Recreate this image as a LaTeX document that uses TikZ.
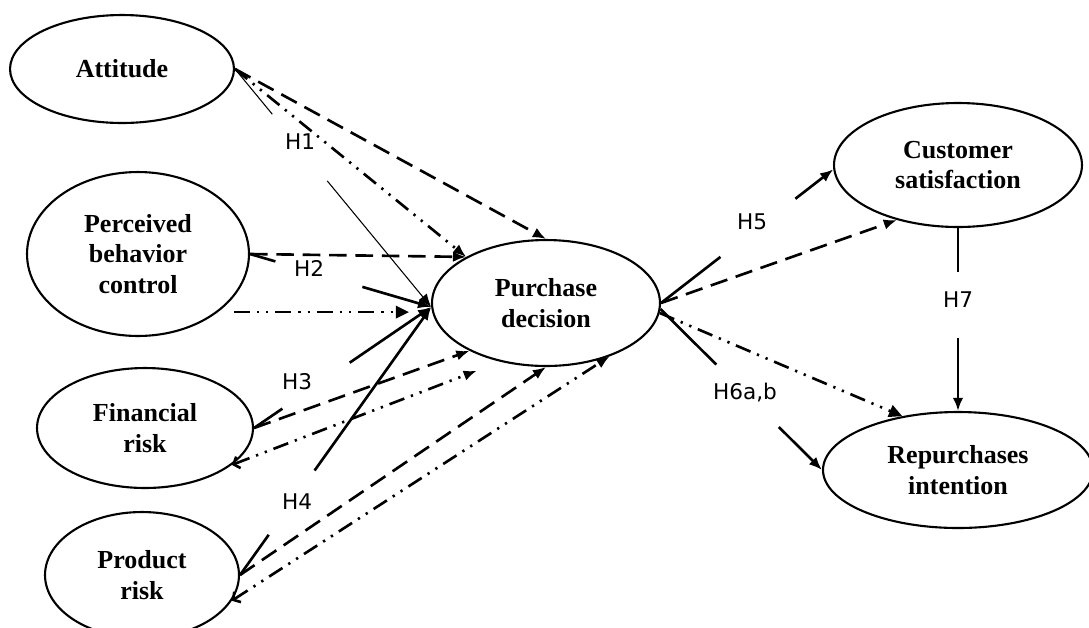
\documentclass[tikz,border=0pt]{standalone}
\usepackage{fontspec}
\setmainfont{Liberation Serif}
\newfontfamily\hfont{DejaVu Sans}
\usetikzlibrary{shapes.geometric,arrows.meta}
\begin{document}
\begin{tikzpicture}[x=0.02cm,y=-0.02cm,
  var/.style={ellipse,draw,line width=1.2pt,inner sep=0pt,align=center,font=\fontsize{14.8}{17.5}\selectfont\bfseries},
  hyp/.style={font=\hfont\fontsize{12.3}{14}\selectfont,inner sep=1pt},
  link/.style={line width=1.5pt},
  tip/.style={arrows={-Latex[length=7.5pt,width=6pt]}},
  tri/.style={arrows={-Triangle[length=7.5pt,width=7pt]}},
  btip/.style={arrows={Straight Barb[length=3pt,width=7pt]-Latex[length=7.5pt,width=6pt]}},
  dsh/.style={dash pattern=on 10pt off 5pt},
  ddot/.style={dash pattern=on 9pt off 4pt on 1.3pt off 4pt on 1.3pt off 4pt}]
\useasboundingbox (0,0) rectangle (1089,627);
\node[var,minimum width=4.48cm,minimum height=2.16cm] (att) at (122,69) {Attitude};
\node[var,minimum width=4.44cm,minimum height=3.28cm] (pbc) at (138,254) {Perceived\\behavior\\control};
\node[var,minimum width=4.32cm,minimum height=2.4cm] (fr) at (145,428) {Financial\\risk};
\node[var,minimum width=3.88cm,minimum height=2.52cm] (prd) at (142,575) {Product\\risk};
\node[var,minimum width=4.56cm,minimum height=2.52cm] (pd) at (546,303) {Purchase\\decision};
\node[var,minimum width=4.96cm,minimum height=2.48cm] (cs) at (958,165) {Customer\\satisfaction};
\node[var,minimum width=5.4cm,minimum height=2.32cm] (ri) at (958,470) {Repurchases\\intention};
\node[hyp] (h1) at (300,142) {H1};
\node[hyp] (h2) at (309,268) {H2};
\node[hyp] (h3) at (297,382) {H3};
\node[hyp] (h4) at (297,502) {H4};
\node[hyp] (h5) at (752,222) {H5};
\node[hyp] (h6) at (745,393) {H6a,b};
\node[hyp] (h7) at (958,300) {H7};
\draw[link,dsh,tip] (att.east) -- (pd.north);
\draw[link,ddot,tip] (att.east) -- (pd.150);
\path (att.east) -- (pd.182) coordinate[pos=.19] (a1) coordinate[pos=.47] (a2);
\draw[line width=.6pt] (att.east) -- (a1);
\draw[line width=.6pt,tip] (a2) -- (pd.182);
\draw[link,dsh,tip] (pbc.east) -- (pd.150);
\path (pbc.east) -- (pd.182) coordinate[pos=.14] (b1) coordinate[pos=.62] (b2);
\draw[link] (pbc.east) -- (b1);
\draw[link,tip] (b2) -- (pd.182);
\draw[link,ddot,tri,shorten <=0.32cm,shorten >=0.44cm] (pbc.-36) -- (pbc.-36 -| pd.west);
\path (fr.east) -- (pd.182) coordinate[pos=.16] (c1) coordinate[pos=.54] (c2);
\draw[link] (fr.east) -- (c1);
\draw[link,tip] (c2) -- (pd.182);
\draw[link,dsh,tip] (fr.east) -- (pd.212);
\draw[link,ddot,btip,shorten >=0.5cm] (fr.-23) -- (pd.232);
\path (prd.east) -- (pd.182) coordinate[pos=.15] (d1) coordinate[pos=.39] (d2);
\draw[link] (prd.east) -- (d1);
\draw[link,tip] (d2) -- (pd.182);
\draw[link,dsh,tip] (prd.east) -- (pd.south);
\draw[link,ddot,btip] (prd.-16) -- (pd.-40);
\path (pd.east) -- (cs.182) coordinate[pos=.345] (e1) coordinate[pos=.78] (e2);
\draw[link] (pd.east) -- (e1);
\draw[link,tip] (e2) -- (cs.182);
\draw[link,dsh,tip] (pd.east) -- (cs.222);
\path (pd.-3) -- (ri.west) coordinate[pos=.345] (f1) coordinate[pos=.733] (f2);
\draw[link] (pd.-3) -- (f1);
\draw[link,tip] (f2) -- (ri.west);
\draw[link,ddot,tri] (pd.-5) -- (ri.136);
\path (cs.south) -- (ri.north) coordinate[pos=.24] (g1) coordinate[pos=.6] (g2);
\draw[link] (cs.south) -- (g1);
\draw[link,tip] (g2) -- (ri.north);
\end{tikzpicture}
\end{document}
